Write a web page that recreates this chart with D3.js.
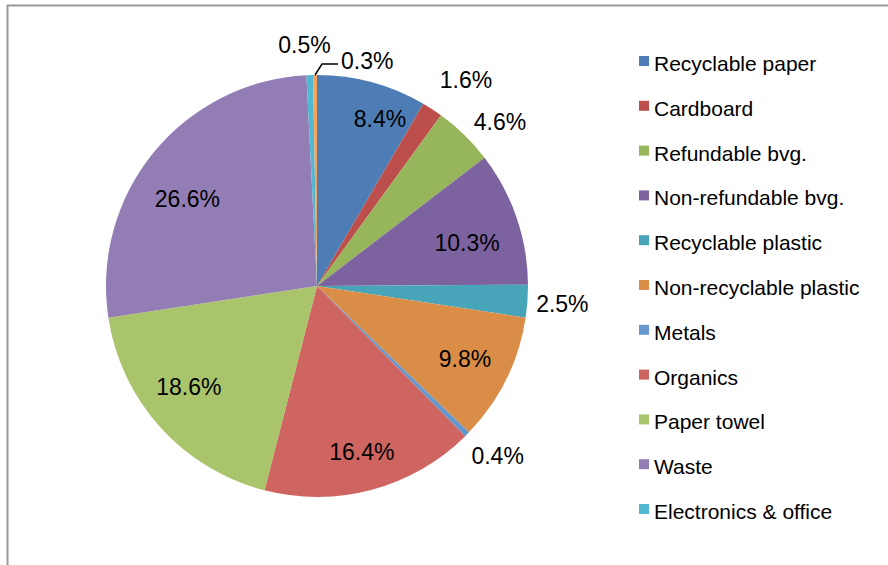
<!DOCTYPE html>
<html>
<head>
<meta charset="utf-8">
<script src="https://cdn.jsdelivr.net/npm/d3@7"></script>
<style>
  html, body { margin: 0; padding: 0; background: #fff; }
  svg { display: block; font-family: "Liberation Sans", Arial, sans-serif; }
</style>
</head>
<body>
<svg id="chart" width="888" height="565"></svg>
<script>
// Waste composition by category (percent of total)
const categories = [
  "Recyclable paper", "Cardboard", "Refundable bvg.", "Non-refundable bvg.",
  "Recyclable plastic", "Non-recyclable plastic", "Metals", "Organics",
  "Paper towel", "Waste", "Electronics & office", "Other"
];
const shares = [8.4, 1.6, 4.6, 10.3, 2.5, 9.8, 0.4, 16.4, 18.6, 26.6, 0.5, 0.3];
const colors = [
  "#4e7db5", "#bc4f4c", "#97b55a", "#7d62a0", "#47a4b9", "#da8d47",
  "#6598cf", "#cf6560", "#a9c46b", "#937db5", "#52b7d1", "#f5a35a"
];
// Entries shown in the legend (the last slice is not listed)
const legendCount = 11;

// Layout
const cx = 317, cy = 286, radius = 211;
const insideR = 165, outsideR = 246;
const insideMin = 5; // slices smaller than this get their label outside
// Small label shifts [degrees, px] to keep labels clear of neighbours
const labelShift = {
  "Recyclable paper": [5.5, 14],
  "Cardboard": [2.8, 8],
  "Refundable bvg.": [3.8, 0],
  "Non-refundable bvg.": [3, -9],
  "Organics": [0, 7],
  "Paper towel": [4, -2],
  "Waste": [-5.4, -9],
  "Metals": [-1.4, 2],
  "Electronics & office": [-1, -5]
};

const svg = d3.select("#chart");

// Chart frame
svg.append("path")
  .attr("d", "M7.5,570 V5.5 H900")
  .attr("fill", "none")
  .attr("stroke", "#999")
  .attr("stroke-width", 2);

const pie = d3.pie().sort(null).value(d => d)
  .startAngle(0).endAngle(2 * Math.PI);
const arcs = pie(shares);
const arc = d3.arc().innerRadius(0).outerRadius(radius);

const g = svg.append("g").attr("transform", `translate(${cx},${cy})`);

g.selectAll("path.slice")
  .data(arcs)
  .join("path")
  .attr("class", "slice")
  .attr("d", arc)
  .attr("fill", (d, i) => colors[i]);

const fmt = v => v.toFixed(1) + "%";
const polar = (ang, r) => [Math.sin(ang) * r, -Math.cos(ang) * r];

// Data labels
arcs.forEach((d, i) => {
  const name = categories[i];
  const mid = (d.startAngle + d.endAngle) / 2;
  if (i === arcs.length - 1) {
    // Thin last slice: label pulled aside with a leader line
    const [x0, y0] = polar(mid, radius);
    const y1 = y0 - 11;
    const x1 = x0 + 7;
    const x2 = x1 + 16;
    g.append("path")
      .attr("d", `M${x0},${y0} L${x1},${y1} H${x2}`)
      .attr("fill", "none")
      .attr("stroke", "#000")
      .attr("stroke-width", 1.5);
    g.append("text")
      .attr("x", x2 + 3)
      .attr("y", y1 - 3)
      .attr("dy", "0.35em")
      .attr("text-anchor", "start")
      .attr("font-size", 23)
      .attr("fill", "#000")
      .text(fmt(d.data));
    return;
  }
  const shift = labelShift[name] || [0, 0];
  const ang = mid + shift[0] * Math.PI / 180;
  const r = (d.data >= insideMin ? insideR : outsideR) + shift[1];
  const [x, y] = polar(ang, r);
  g.append("text")
    .attr("x", x)
    .attr("y", y)
    .attr("dy", "0.35em")
    .attr("text-anchor", "middle")
    .attr("font-size", 23)
    .attr("fill", "#000")
    .text(fmt(d.data));
});

// Legend
const legend = svg.append("g").attr("transform", "translate(639,71)");
const rowStep = 44.8;
const rows = legend.selectAll("g.row")
  .data(categories.slice(0, legendCount))
  .join("g")
  .attr("class", "row")
  .attr("transform", (d, i) => `translate(0,${i * rowStep})`);
rows.append("rect")
  .attr("x", 0).attr("y", -15)
  .attr("width", 10).attr("height", 10)
  .attr("fill", (d, i) => colors[i]);
rows.append("text")
  .attr("x", 15).attr("y", 0)
  .attr("font-size", 21)
  .attr("fill", "#000")
  .text(d => d);
</script>
</body>
</html>
